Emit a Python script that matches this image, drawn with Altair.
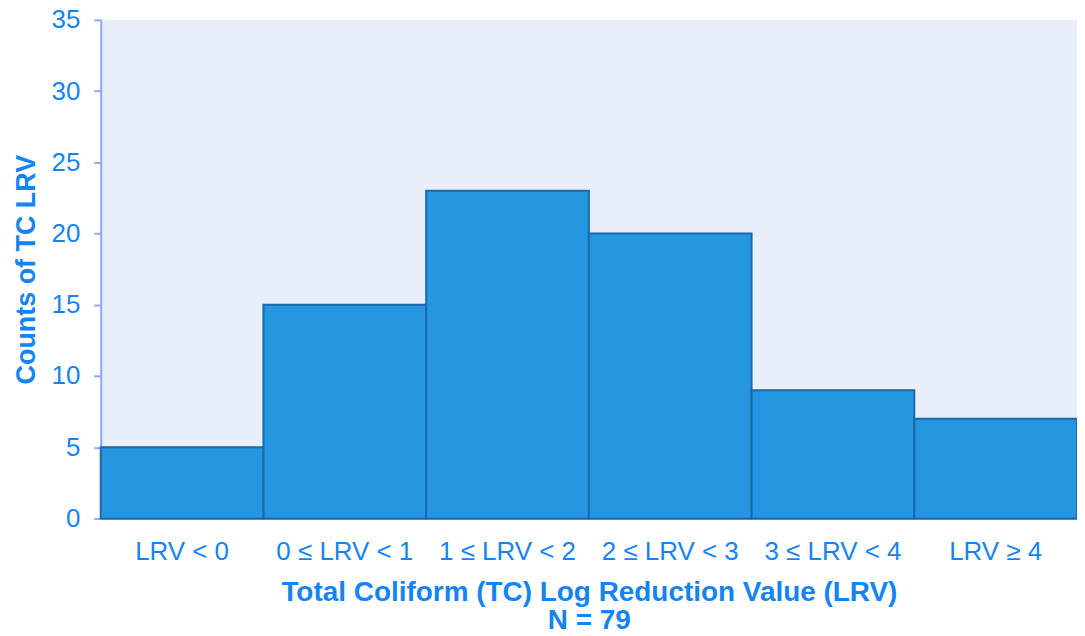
import altair as alt
import pandas as pd

categories = ["LRV < 0", "0 ≤ LRV < 1", "1 ≤ LRV < 2", "2 ≤ LRV < 3", "3 ≤ LRV < 4", "LRV ≥ 4"]
counts = [5, 15, 23, 20, 9, 7]

df = pd.DataFrame({"category": categories, "count": counts})

TEXT = "#1484f2"
AXIS = "#8ea8f6"
FONT = "Liberation Sans"

chart = alt.Chart(df).mark_bar(
    color="#2496e2", stroke="#1a6aa8", strokeWidth=2
).encode(
    x=alt.X("category:N", sort=categories,
            scale=alt.Scale(paddingInner=0, paddingOuter=0),
            axis=alt.Axis(title=["Total Coliform (TC) Log Reduction Value (LRV)", "N = 79"],
                          labelAngle=0, ticks=False, labelPadding=20,
                          labelFontSize=26, labelColor=TEXT, labelFont=FONT,
                          titleFontSize=28, titleColor=TEXT, titleFont=FONT,
                          titleFontWeight="bold", titlePadding=14, titleLineHeight=28,
                          domainColor=AXIS, domainWidth=2, grid=False)),
    y=alt.Y("count:Q", scale=alt.Scale(domain=[0, 35], nice=False),
            axis=alt.Axis(title="Counts of TC LRV", values=[0, 5, 10, 15, 20, 25, 30, 35],
                          tickSize=7, tickColor=AXIS, tickWidth=2, labelPadding=14,
                          labelFontSize=26, labelColor=TEXT, labelFont=FONT,
                          titleFontSize=27, titleColor=TEXT, titleFont=FONT,
                          titleFontWeight="bold", titlePadding=11,
                          domainColor=AXIS, domainWidth=2, grid=False)),
).properties(
    width=979, height=500,
    background="white",
    padding={"left": 93, "top": 11, "right": 0, "bottom": 116},
    autosize=alt.AutoSizeParams(type="none"),
).configure_view(fill="#e8eefa", stroke=None)

chart.save("out.html", embed_options={"renderer": "svg", "actions": False})
